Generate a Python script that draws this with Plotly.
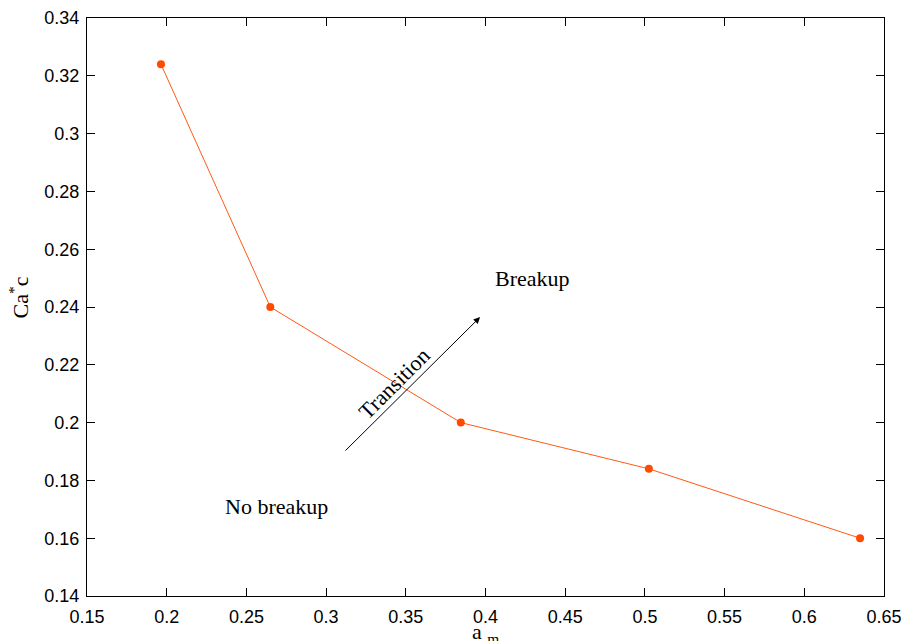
import plotly.graph_objects as go

a_m = [0.1964, 0.265, 0.3845, 0.5025, 0.635]
ca_c = [0.324, 0.240, 0.200, 0.184, 0.160]

fig = go.Figure()
fig.add_trace(go.Scatter(
    x=a_m, y=ca_c, mode="lines+markers",
    line=dict(color="#ff5a14", width=1),
    marker=dict(color="#ff4a00", size=8),
    showlegend=False,
))

serif = "Liberation Serif, Times New Roman, serif"
sans = "Liberation Sans, Arial, sans-serif"

fig.add_annotation(x=0.3966, y=0.2365, ax=0.3112, ay=0.1898,
                   xref="x", yref="y", axref="x", ayref="y",
                   text="", showarrow=True, arrowhead=2, arrowsize=1.3,
                   arrowwidth=1, arrowcolor="black")
fig.add_annotation(x=0.3426, y=0.2137, text="Transition", showarrow=False,
                   textangle=-45, font=dict(family=serif, size=22, color="black"))
fig.add_annotation(x=0.4292, y=0.250, text="Breakup", showarrow=False,
                   font=dict(family=serif, size=22, color="black"))
fig.add_annotation(x=0.2686, y=0.1708, text="No breakup", showarrow=False,
                   font=dict(family=serif, size=22, color="black"))

# axis titles as paper annotations
fig.add_annotation(x=0.5, y=-0.036, xref="paper", yref="paper",
                   xanchor="center", yanchor="top",
                   text="a <sub>m</sub>", showarrow=False,
                   font=dict(family=serif, size=22, color="black"))
fig.add_annotation(x=-0.085, y=0.517, xref="paper", yref="paper",
                   xanchor="center", yanchor="middle", textangle=-90,
                   text="Ca<sup>*</sup>c", showarrow=False,
                   font=dict(family=serif, size=22, color="black"))

axis_common = dict(showline=True, linecolor="black", linewidth=1, mirror="ticks",
                   ticks="inside", ticklen=8, tickcolor="black", showgrid=False,
                   zeroline=False, automargin=False,
                   tickfont=dict(family=sans, size=18, color="black"))

fig.update_xaxes(range=[0.15, 0.65], dtick=0.05, tick0=0.15, ticklabelstandoff=4,
                 **axis_common)
fig.update_yaxes(range=[0.14, 0.34], dtick=0.02, tick0=0.14, ticklabelstandoff=3,
                 **axis_common)

fig.update_layout(width=904, height=641, plot_bgcolor="white", paper_bgcolor="white",
                  margin=dict(l=87, r=20, t=18, b=45))
fig.write_html("out.html", config={"displayModeBar": False},
               post_script="document.body.style.margin='0';")
